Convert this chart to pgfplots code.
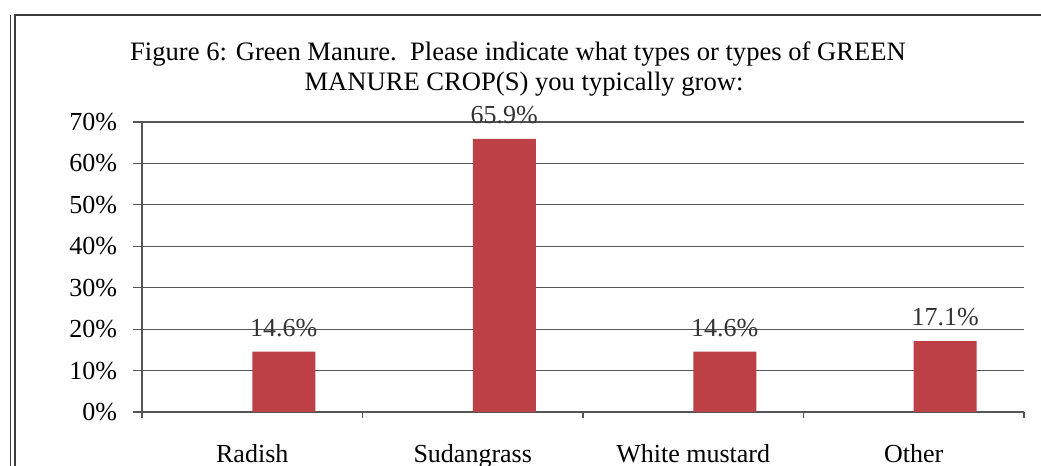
\documentclass[border=0pt]{standalone}
\usepackage{fontspec}
\setmainfont{Liberation Serif}
\usepackage{pgfplots}
\pgfplotsset{compat=1.18}
\definecolor{barred}{RGB}{188,64,70}
\definecolor{gridgray}{RGB}{85,85,85}
\definecolor{framegray}{RGB}{60,60,60}

\begin{document}
\begin{tikzpicture}
\useasboundingbox (0pt,0pt) rectangle (520.5pt,233pt);
% outer frame of the chart box
\draw[framegray, line width=0.5pt] (5pt,0pt) -- (5pt,225.5pt);
\draw[framegray, line width=1pt] (7.5pt,0pt) -- (7.5pt,225.5pt) -- (520.5pt,225.5pt);
% title
\node[font=\fontsize{13.3}{16}\selectfont, anchor=base] at (259pt,202.5pt)
  {Figure 6: Green Manure.\ \ Please indicate what types or types of GREEN};
\node[font=\fontsize{13.3}{16}\selectfont, anchor=base] at (262pt,187.5pt)
  {MANURE CROP(S) you typically grow:};
\begin{axis}[
  at={(71pt,27pt)}, anchor=origin,
  scale only axis, width=441pt, height=145pt,
  xmin=0, xmax=4, ymin=0, ymax=70,
  axis x line*=bottom, axis y line*=left,
  axis line style={gridgray, line width=0.6pt},
  ybar, bar width=31.5pt, bar shift=15.75pt,
  ytick={0,10,...,70},
  yticklabel={\pgfmathprintnumber{\tick}\%},
  ymajorgrids, grid style={gridgray, line width=0.6pt},
  tick align=outside, major tick length=4.5pt,
  tick style={gridgray, line width=0.6pt},
  xtick={0.5,1.5,2.5,3.5},
  xticklabels={Radish,Sudangrass,White mustard,Other},
  xtick style={draw=none},
  extra x ticks={0,1,2,3,4},
  extra x tick labels={,,,,},
  extra x tick style={major tick length=3pt, xtick style={draw=gridgray}, grid=none},
  ticklabel style={font=\fontsize{13}{15}\selectfont, text=black},
  xticklabel style={yshift=-8pt},
  yticklabel style={xshift=-4.5pt},
  /pgf/number format/assume math mode=true,
  nodes near coords={\pgfmathprintnumber[fixed,fixed zerofill,precision=1]{\pgfplotspointmeta}\%},
  nodes near coords style={font=\fontsize{13}{15}\selectfont, text=black!80, yshift=4pt},
]
\addplot[fill=barred, draw=none] coordinates {(0.5,14.6) (1.5,65.9) (2.5,14.6) (3.5,17.1)};
\end{axis}
\end{tikzpicture}
\end{document}
